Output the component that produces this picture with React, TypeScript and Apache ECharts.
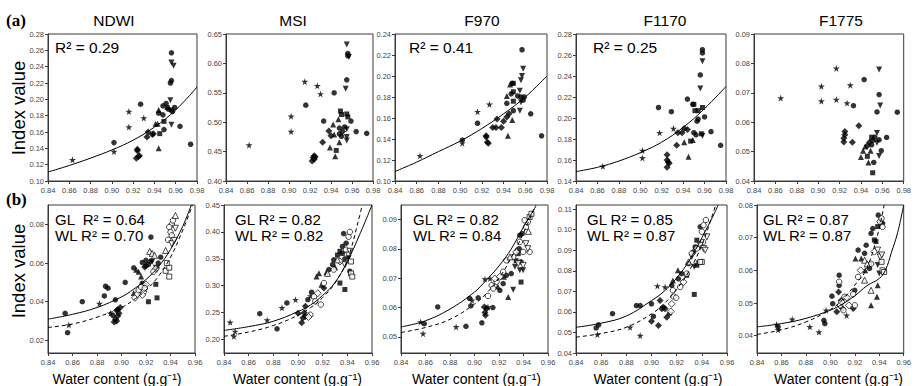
import React, { useEffect, useRef } from 'react';
import * as echarts from 'echarts';

type P = [number, number, string];
type C = [number, number];

// Marker codes: S star, C circle, D diamond, T triangle, V inverted triangle, Q square (upper = filled GL, lower = open WL)
const titles = ['NDWI', 'MSI', 'F970', 'F1170', 'F1775'];
const topR2 = ['0.29', '', '0.41', '0.25', ''];
const glR2 = ['0.64', '0.82', '0.82', '0.85', '0.87'];
const wlR2 = ['0.70', '0.82', '0.84', '0.87', '0.87'];

const topNDWI: P[] = [
  [0.863,0.126,'S'],[0.902,0.136,'S'],[0.902,0.147,'C'],[0.916,0.185,'S'],[0.916,0.166,'S'],
  [0.927,0.194,'C'],[0.930,0.177,'S'],[0.924,0.139,'D'],[0.923,0.128,'D'],[0.925,0.130,'D'],
  [0.926,0.131,'D'],[0.924,0.137,'D'],[0.934,0.160,'D'],[0.933,0.154,'D'],[0.938,0.157,'D'],
  [0.939,0.158,'D'],[0.941,0.170,'T'],[0.943,0.170,'T'],[0.944,0.140,'T'],[0.944,0.183,'C'],
  [0.944,0.187,'T'],[0.948,0.181,'C'],[0.945,0.158,'Q'],[0.949,0.173,'Q'],[0.949,0.163,'C'],
  [0.948,0.192,'C'],[0.951,0.195,'C'],[0.952,0.190,'Q'],[0.953,0.188,'C'],[0.955,0.199,'V'],
  [0.956,0.169,'V'],[0.955,0.220,'C'],[0.956,0.223,'C'],[0.956,0.245,'V'],[0.958,0.241,'V'],
  [0.956,0.257,'C'],[0.956,0.187,'Q'],[0.957,0.185,'C'],[0.959,0.190,'C'],[0.964,0.167,'C'],
  [0.974,0.145,'C'],
];
const topMSI: P[] = [
  [0.862,0.461,'S'],[0.902,0.510,'S'],[0.902,0.484,'S'],[0.915,0.569,'S'],[0.916,0.529,'C'],
  [0.927,0.562,'S'],[0.930,0.548,'S'],[0.922,0.434,'D'],[0.923,0.440,'D'],[0.924,0.443,'D'],
  [0.924,0.437,'D'],[0.925,0.441,'D'],[0.933,0.502,'C'],[0.932,0.466,'D'],[0.938,0.485,'D'],
  [0.939,0.457,'T'],[0.940,0.477,'D'],[0.943,0.550,'C'],[0.942,0.496,'T'],[0.943,0.479,'T'],
  [0.944,0.442,'T'],[0.945,0.452,'Q'],[0.947,0.505,'T'],[0.948,0.490,'C'],[0.948,0.466,'T'],
  [0.948,0.480,'C'],[0.949,0.519,'Q'],[0.950,0.513,'Q'],[0.950,0.476,'C'],[0.951,0.484,'D'],
  [0.953,0.492,'C'],[0.954,0.557,'V'],[0.955,0.514,'Q'],[0.955,0.475,'V'],[0.955,0.469,'V'],
  [0.955,0.572,'C'],[0.955,0.632,'V'],[0.956,0.617,'C'],[0.957,0.611,'V'],[0.956,0.613,'C'],
  [0.956,0.509,'Q'],[0.955,0.488,'V'],[0.959,0.502,'C'],[0.964,0.484,'C'],[0.974,0.481,'C'],
];
const topF970: P[] = [
  [0.863,0.124,'S'],[0.902,0.136,'S'],[0.902,0.139,'C'],[0.916,0.166,'S'],[0.916,0.155,'C'],
  [0.927,0.173,'S'],[0.924,0.142,'D'],[0.925,0.137,'D'],[0.926,0.136,'D'],[0.924,0.143,'D'],
  [0.930,0.151,'D'],[0.933,0.151,'D'],[0.934,0.159,'D'],[0.938,0.151,'D'],[0.940,0.157,'D'],
  [0.943,0.161,'D'],[0.945,0.164,'D'],[0.943,0.181,'T'],[0.944,0.143,'T'],[0.948,0.158,'T'],
  [0.943,0.174,'C'],[0.946,0.192,'T'],[0.948,0.193,'C'],[0.947,0.183,'C'],[0.949,0.185,'Q'],
  [0.949,0.193,'Q'],[0.949,0.176,'Q'],[0.949,0.167,'C'],[0.955,0.186,'V'],[0.956,0.196,'V'],
  [0.957,0.200,'V'],[0.958,0.207,'V'],[0.955,0.167,'V'],[0.956,0.175,'V'],[0.953,0.181,'C'],
  [0.956,0.180,'C'],[0.959,0.180,'C'],[0.958,0.177,'C'],[0.957,0.225,'C'],[0.965,0.164,'C'],
  [0.975,0.143,'C'],
];
const topF1170: P[] = [
  [0.865,0.154,'S'],[0.902,0.169,'S'],[0.902,0.162,'S'],[0.917,0.210,'C'],[0.918,0.186,'S'],
  [0.929,0.206,'C'],[0.931,0.190,'S'],[0.925,0.165,'D'],[0.925,0.160,'D'],[0.926,0.158,'D'],
  [0.925,0.153,'D'],[0.927,0.157,'D'],[0.934,0.174,'D'],[0.935,0.186,'D'],[0.939,0.186,'D'],
  [0.941,0.190,'D'],[0.944,0.189,'D'],[0.944,0.218,'C'],[0.941,0.177,'T'],[0.945,0.163,'T'],
  [0.949,0.179,'T'],[0.947,0.178,'Q'],[0.950,0.213,'Q'],[0.951,0.207,'Q'],[0.954,0.207,'Q'],
  [0.958,0.210,'Q'],[0.949,0.213,'C'],[0.950,0.186,'C'],[0.952,0.184,'C'],[0.953,0.197,'C'],
  [0.954,0.199,'C'],[0.956,0.228,'V'],[0.958,0.183,'V'],[0.958,0.254,'V'],[0.956,0.241,'C'],
  [0.958,0.265,'C'],[0.958,0.262,'C'],[0.957,0.185,'Q'],[0.960,0.201,'C'],[0.966,0.187,'C'],
  [0.975,0.174,'C'],
];
const topF1775: P[] = [
  [0.865,0.0682,'S'],[0.903,0.0722,'S'],[0.903,0.0672,'S'],[0.917,0.0783,'S'],[0.917,0.0677,'S'],
  [0.927,0.0665,'S'],[0.930,0.0726,'S'],[0.933,0.0656,'C'],[0.943,0.0745,'C'],[0.925,0.0568,'D'],
  [0.925,0.0557,'D'],[0.924,0.0545,'D'],[0.924,0.0533,'D'],[0.932,0.0532,'D'],[0.938,0.0588,'D'],
  [0.940,0.0482,'T'],[0.942,0.0503,'T'],[0.944,0.0517,'T'],[0.947,0.0463,'T'],[0.949,0.0503,'T'],
  [0.946,0.0520,'D'],[0.948,0.0532,'D'],[0.946,0.0484,'Q'],[0.950,0.0549,'Q'],[0.951,0.0428,'Q'],
  [0.950,0.0523,'C'],[0.951,0.0538,'C'],[0.952,0.0463,'C'],[0.953,0.0549,'C'],[0.955,0.0563,'V'],
  [0.957,0.0485,'V'],[0.957,0.0779,'V'],[0.958,0.0657,'V'],[0.955,0.0530,'V'],[0.955,0.0635,'C'],
  [0.957,0.0694,'C'],[0.957,0.0540,'C'],[0.959,0.0503,'C'],[0.964,0.0548,'C'],[0.974,0.0634,'C'],
];

const botNDWI: P[] = [
  [0.854,0.034,'C'],[0.856,0.024,'C'],[0.857,0.028,'S'],[0.868,0.040,'C'],[0.882,0.039,'S'],
  [0.886,0.043,'C'],[0.887,0.048,'C'],[0.889,0.047,'C'],[0.891,0.034,'S'],[0.895,0.041,'C'],
  [0.893,0.033,'C'],[0.896,0.0355,'D'],[0.897,0.036,'D'],[0.899,0.037,'D'],[0.898,0.034,'D'],
  [0.897,0.0326,'D'],[0.895,0.031,'D'],[0.896,0.030,'D'],[0.894,0.0295,'D'],[0.903,0.050,'C'],
  [0.910,0.0575,'C'],[0.912,0.0565,'T'],[0.914,0.0555,'T'],[0.910,0.0445,'T'],[0.917,0.0495,'C'],
  [0.917,0.0603,'C'],[0.919,0.058,'D'],[0.920,0.0614,'C'],[0.920,0.0586,'D'],[0.922,0.0593,'C'],
  [0.924,0.061,'C'],[0.925,0.0607,'V'],[0.928,0.0576,'V'],[0.929,0.0565,'V'],[0.924,0.0734,'C'],
  [0.928,0.049,'Q'],[0.929,0.042,'Q'],[0.922,0.040,'Q'],[0.919,0.0484,'Q'],[0.916,0.053,'T'],
  [0.930,0.060,'C'],[0.932,0.063,'C'],
  [0.911,0.042,'d'],[0.913,0.044,'d'],[0.914,0.046,'c'],[0.916,0.0476,'c'],[0.918,0.045,'d'],
  [0.919,0.047,'c'],[0.920,0.049,'d'],[0.917,0.0435,'d'],[0.923,0.066,'t'],[0.925,0.065,'t'],
  [0.927,0.064,'t'],[0.926,0.0555,'c'],[0.928,0.057,'d'],[0.936,0.056,'q'],[0.939,0.0576,'q'],
  [0.939,0.053,'q'],[0.937,0.060,'q'],[0.936,0.0665,'t'],[0.941,0.080,'c'],[0.939,0.0786,'c'],
  [0.940,0.076,'c'],[0.941,0.0743,'c'],[0.938,0.072,'c'],[0.941,0.070,'v'],[0.943,0.0717,'v'],
  [0.944,0.0846,'t'],[0.942,0.082,'c'],[0.944,0.078,'v'],
];
const botMSI: P[] = [
  [0.845,0.232,'S'],[0.848,0.206,'S'],[0.849,0.215,'S'],[0.869,0.248,'C'],[0.875,0.236,'S'],
  [0.883,0.220,'C'],[0.887,0.259,'S'],[0.891,0.268,'C'],[0.898,0.274,'S'],[0.900,0.249,'D'],
  [0.903,0.231,'D'],[0.906,0.243,'D'],[0.906,0.262,'D'],[0.908,0.274,'C'],[0.910,0.281,'S'],
  [0.911,0.288,'C'],[0.915,0.317,'T'],[0.917,0.323,'T'],[0.919,0.302,'T'],[0.921,0.296,'D'],
  [0.925,0.330,'C'],[0.928,0.339,'C'],[0.929,0.348,'C'],[0.932,0.357,'Q'],[0.934,0.364,'Q'],
  [0.936,0.373,'C'],[0.937,0.397,'C'],[0.938,0.293,'Q'],[0.934,0.305,'Q'],[0.939,0.379,'C'],
  [0.941,0.351,'V'],[0.942,0.327,'C'],[0.904,0.240,'D'],[0.905,0.250,'D'],[0.923,0.325,'T'],
  [0.930,0.335,'T'],[0.936,0.360,'Q'],[0.938,0.350,'C'],
  [0.913,0.280,'c'],[0.914,0.271,'c'],[0.916,0.286,'d'],[0.9185,0.265,'c'],[0.910,0.246,'c'],
  [0.9085,0.242,'d'],[0.921,0.305,'c'],[0.924,0.323,'t'],[0.929,0.330,'c'],[0.934,0.345,'d'],
  [0.938,0.339,'v'],[0.941,0.357,'v'],[0.942,0.364,'v'],[0.943,0.345,'q'],[0.943,0.323,'q'],
  [0.944,0.317,'q'],[0.941,0.391,'c'],[0.942,0.400,'c'],[0.939,0.367,'c'],[0.932,0.348,'t'],
];
const botF970: P[] = [
  [0.856,0.0551,'S'],[0.859,0.0545,'C'],[0.858,0.0511,'S'],[0.870,0.0602,'C'],[0.885,0.0534,'S'],
  [0.893,0.0536,'C'],[0.896,0.0631,'C'],[0.897,0.0606,'C'],[0.898,0.0625,'S'],[0.903,0.0633,'C'],
  [0.9085,0.0697,'S'],[0.9126,0.0699,'S'],[0.906,0.0548,'C'],[0.908,0.0602,'D'],[0.910,0.0597,'D'],
  [0.9085,0.0583,'D'],[0.909,0.0574,'D'],[0.911,0.0602,'S'],[0.915,0.0600,'C'],[0.9207,0.0659,'C'],
  [0.9234,0.0682,'C'],[0.926,0.0710,'C'],[0.9275,0.0636,'T'],[0.930,0.0716,'C'],[0.9316,0.0661,'V'],
  [0.933,0.0739,'V'],[0.934,0.0760,'Q'],[0.9357,0.0784,'Q'],[0.9365,0.0801,'C'],[0.937,0.0727,'V'],
  [0.938,0.0756,'C'],[0.9397,0.0727,'V'],[0.938,0.0687,'Q'],[0.937,0.0847,'C'],[0.939,0.0852,'C'],
  [0.924,0.0705,'T'],[0.919,0.0672,'T'],
  [0.914,0.0676,'c'],[0.9153,0.0665,'c'],[0.9166,0.0699,'d'],[0.918,0.0688,'c'],[0.9207,0.0705,'d'],
  [0.9234,0.0722,'c'],[0.926,0.0761,'c'],[0.929,0.0773,'t'],[0.9316,0.0773,'c'],[0.9357,0.0750,'v'],
  [0.9397,0.0744,'v'],[0.942,0.0818,'v'],[0.9435,0.0801,'v'],[0.945,0.0790,'c'],[0.942,0.0875,'c'],
  [0.9435,0.0892,'c'],[0.945,0.0909,'q'],[0.9465,0.0920,'q'],[0.941,0.0898,'c'],[0.937,0.0824,'c'],
  [0.934,0.0790,'d'],[0.9397,0.0790,'c'],[0.944,0.0860,'t'],[0.911,0.0640,'c'],
];
const botF1170: P[] = [
  [0.856,0.0522,'C'],[0.858,0.0537,'C'],[0.857,0.0490,'S'],[0.869,0.0591,'C'],[0.883,0.0525,'S'],
  [0.891,0.0485,'S'],[0.888,0.0631,'C'],[0.891,0.0631,'C'],[0.900,0.0639,'C'],[0.9015,0.0578,'C'],
  [0.900,0.0555,'D'],[0.9055,0.0534,'D'],[0.9047,0.0726,'S'],[0.9068,0.0656,'D'],[0.9082,0.0615,'D'],
  [0.9095,0.0623,'D'],[0.9108,0.0615,'D'],[0.9121,0.0574,'D'],[0.9108,0.0721,'S'],[0.9143,0.0591,'C'],
  [0.9161,0.0729,'C'],[0.921,0.0802,'T'],[0.9214,0.0761,'C'],[0.917,0.0753,'T'],[0.924,0.0786,'C'],
  [0.9294,0.0835,'C'],[0.932,0.0867,'V'],[0.9334,0.0892,'C'],[0.9347,0.0916,'C'],[0.936,0.0949,'Q'],
  [0.9387,0.1014,'C'],[0.9339,0.0819,'V'],[0.936,0.0827,'Q'],[0.928,0.0778,'Q'],[0.934,0.0685,'Q'],
  [0.9374,0.0835,'V'],
  [0.917,0.0705,'c'],[0.9175,0.0675,'c'],[0.9161,0.0639,'d'],[0.9153,0.0602,'d'],[0.9196,0.0669,'c'],
  [0.9228,0.0721,'c'],[0.9254,0.0745,'d'],[0.928,0.0786,'c'],[0.9294,0.0843,'t'],[0.932,0.0884,'c'],
  [0.936,0.0908,'c'],[0.9387,0.0924,'v'],[0.9413,0.0908,'v'],[0.9427,0.0900,'v'],[0.940,0.0843,'q'],
  [0.9387,0.0843,'q'],[0.9413,0.1022,'c'],[0.9432,0.1047,'c'],[0.940,0.0990,'c'],[0.944,0.0965,'v'],
  [0.941,0.0940,'c'],
];
const botF1775: P[] = [
  [0.856,0.0434,'S'],[0.8573,0.0427,'C'],[0.8573,0.0418,'S'],[0.8688,0.0450,'S'],[0.8832,0.0427,'S'],
  [0.8907,0.0411,'S'],[0.8947,0.0447,'C'],[0.8955,0.0437,'C'],[0.8965,0.0478,'S'],[0.9013,0.0521,'C'],
  [0.9019,0.0498,'C'],[0.9053,0.0473,'D'],[0.9067,0.0534,'D'],[0.9072,0.0554,'C'],[0.9072,0.0585,'C'],
  [0.9088,0.0508,'D'],[0.9099,0.0483,'D'],[0.9133,0.0462,'S'],[0.9187,0.0483,'D'],[0.920,0.0539,'C'],
  [0.9205,0.0636,'T'],[0.9227,0.0662,'C'],[0.9253,0.0636,'T'],[0.928,0.0652,'C'],[0.9285,0.0600,'T'],
  [0.9293,0.0677,'C'],[0.932,0.0606,'C'],[0.9328,0.0616,'V'],[0.9333,0.0713,'C'],[0.9347,0.0728,'C'],
  [0.936,0.0693,'Q'],[0.9373,0.0688,'Q'],[0.9387,0.0734,'Q'],[0.9392,0.0769,'C'],[0.9413,0.0749,'Q'],
  [0.9427,0.0744,'C'],[0.9387,0.0616,'V'],[0.940,0.0590,'V'],[0.9387,0.0554,'T'],[0.9333,0.0493,'T'],
  [0.9381,0.0519,'T'],
  [0.9072,0.0565,'c'],[0.908,0.0493,'c'],[0.9093,0.0503,'d'],[0.9115,0.0519,'c'],[0.9133,0.0517,'d'],
  [0.9152,0.0493,'d'],[0.9107,0.0478,'c'],[0.9187,0.0527,'c'],[0.920,0.0493,'c'],[0.9227,0.0580,'c'],
  [0.9248,0.0600,'d'],[0.928,0.0631,'t'],[0.9301,0.0620,'t'],[0.9333,0.0620,'c'],[0.936,0.0657,'d'],
  [0.9387,0.0662,'v'],[0.9408,0.0641,'v'],[0.9419,0.0626,'q'],[0.9427,0.0600,'q'],[0.944,0.0595,'q'],
  [0.9421,0.0647,'v'],[0.9405,0.0749,'c'],[0.9419,0.0759,'c'],[0.9427,0.0733,'c'],[0.928,0.0570,'t'],
  [0.9333,0.0539,'t'],
];

// fitted curves
const fitNDWI: C[] = [[0.84,0.111],[0.86,0.119],[0.88,0.128],[0.90,0.138],[0.92,0.150],[0.94,0.166],[0.96,0.187],[0.98,0.215]];
const fitF970: C[] = [[0.84,0.109],[0.86,0.118],[0.88,0.128],[0.90,0.138],[0.92,0.150],[0.94,0.164],[0.96,0.180],[0.98,0.200]];
const fitF1170: C[] = [[0.84,0.149],[0.86,0.153],[0.88,0.159],[0.90,0.167],[0.92,0.177],[0.94,0.191],[0.96,0.209],[0.98,0.230]];
const glNDWI: C[] = [[0.84,0.031],[0.86,0.0335],[0.88,0.037],[0.90,0.0425],[0.91,0.0465],[0.92,0.0515],[0.93,0.058],[0.94,0.067],[0.95,0.079],[0.957,0.090]];
const wlNDWI: C[] = [[0.84,0.0267],[0.86,0.0285],[0.88,0.032],[0.90,0.037],[0.91,0.041],[0.92,0.046],[0.93,0.053],[0.94,0.063],[0.95,0.077],[0.958,0.090]];
const glMSI: C[] = [[0.84,0.217],[0.86,0.224],[0.88,0.234],[0.90,0.252],[0.91,0.264],[0.92,0.282],[0.93,0.306],[0.94,0.345],[0.95,0.395],[0.96,0.450]];
const wlMSI: C[] = [[0.84,0.206],[0.86,0.214],[0.88,0.226],[0.90,0.245],[0.91,0.259],[0.92,0.278],[0.93,0.305],[0.94,0.348],[0.95,0.430],[0.952,0.450]];
const glF970: C[] = [[0.84,0.0534],[0.86,0.0555],[0.88,0.0595],[0.90,0.0653],[0.91,0.0695],[0.92,0.0742],[0.93,0.080],[0.94,0.0875],[0.95,0.0945]];
const wlF970: C[] = [[0.84,0.0515],[0.86,0.0532],[0.88,0.056],[0.90,0.0612],[0.91,0.065],[0.92,0.070],[0.93,0.077],[0.94,0.0855],[0.95,0.0949]];
const glF1170: C[] = [[0.84,0.0525],[0.86,0.0545],[0.88,0.058],[0.90,0.0655],[0.91,0.070],[0.92,0.0765],[0.93,0.085],[0.94,0.096],[0.95,0.108],[0.953,0.112]];
const wlF1170: C[] = [[0.84,0.0477],[0.86,0.0495],[0.88,0.0525],[0.90,0.059],[0.91,0.064],[0.92,0.071],[0.93,0.080],[0.94,0.0925],[0.95,0.110],[0.951,0.112]];
const glF1775: C[] = [[0.84,0.0427],[0.86,0.0437],[0.88,0.0453],[0.90,0.0478],[0.91,0.0497],[0.92,0.0522],[0.93,0.0553],[0.94,0.0575],[0.945,0.0600],[0.95,0.0655],[0.955,0.0715],[0.96,0.080]];
const wlF1775: C[] = [[0.84,0.0404],[0.86,0.0418],[0.88,0.0442],[0.90,0.048],[0.91,0.051],[0.92,0.0555],[0.929,0.060],[0.938,0.070],[0.944,0.080]];

const topY = [[0.10,0.28,0.02],[0.40,0.65,0.05],[0.10,0.24,0.02],[0.14,0.28,0.02],[0.04,0.09,0.01]];
const botYRange = [[0.0135,0.09],[0.175,0.45],[0.0445,0.095],[0.04,0.112],[0.0347,0.08]];
const botYTicks = [
  [0.02,0.04,0.06,0.08],
  [0.20,0.25,0.30,0.35,0.40,0.45],
  [0.05,0.06,0.07,0.08,0.09],
  [0.04,0.05,0.06,0.07,0.08,0.09,0.10,0.11],
  [0.04,0.05,0.06,0.07,0.08],
];

const topPts = [topNDWI, topMSI, topF970, topF1170, topF1775];
const topFits: (C[] | null)[] = [fitNDWI, null, fitF970, fitF1170, null];
const botPts = [botNDWI, botMSI, botF970, botF1170, botF1775];
const botGL = [glNDWI, glMSI, glF970, glF1170, glF1775];
const botWL = [wlNDWI, wlMSI, wlF970, wlF1170, wlF1775];

// layout (px)
const topGrids = [[48,149],[226,147],[395,152],[576,150],[754,150]];
const botGrids = [[48,147],[224,148],[401,147],[576,151],[757,150]];
const titleX = [114, 293, 482, 665, 841];
const r2X = [55, 0, 409, 593, 0];
const glX = [55, 235, 413, 587, 763];
const wcX = [117, 297.5, 476.5, 658, 838.5];

const FONT = '"Liberation Sans", Arial, sans-serif';
const AX = '#3a3a3a';

const SYM: Record<string, { symbol: string; size: number }> = {
  S: { symbol: 'path://M50,0L61,35L98,35L68,57L79,91L50,70L21,91L32,57L2,35L39,35Z', size: 7 },
  C: { symbol: 'circle', size: 5.5 },
  D: { symbol: 'diamond', size: 7 },
  T: { symbol: 'triangle', size: 6 },
  V: { symbol: 'path://M0,0L100,0L50,90Z', size: 6 },
  Q: { symbol: 'rect', size: 5 },
};

const fmt = (v: number) => v.toFixed(2);

function xAxis(i: number, max: number) {
  return {
    type: 'value', gridIndex: i, min: 0.84, max, interval: 0.02,
    axisLine: { show: true, onZero: false, lineStyle: { color: AX, width: 1 } },
    axisTick: { show: true, length: 3, lineStyle: { color: AX } },
    splitLine: { show: false },
    axisLabel: { fontSize: 7.5, color: '#444', margin: 5, fontFamily: FONT, formatter: fmt, showMaxLabel: true, showMinLabel: true },
  };
}

export default function App() {
  const ref = useRef<HTMLDivElement>(null);
  useEffect(() => {
    if (!ref.current) return;
    const chart = echarts.init(ref.current, undefined, { renderer: 'svg' });
    const grid: any[] = [];
    const xAxes: any[] = [];
    const yAxes: any[] = [];
    const series: any[] = [];
    const graphic: any[] = [];

    const addPts = (pts: P[], gi: number) => {
      const codes = Array.from(new Set(pts.map((p) => p[2])));
      codes.forEach((code) => {
        const up = code.toUpperCase();
        const open = code !== up;
        const s = SYM[up];
        series.push({
          type: 'scatter', xAxisIndex: gi, yAxisIndex: gi,
          symbol: s.symbol, symbolSize: s.size,
          data: pts.filter((p) => p[2] === code).map((p) => [p[0], p[1]]),
          itemStyle: open
            ? { color: '#fff', borderColor: '#000', borderWidth: 0.9 }
            : { color: '#000', borderColor: '#000', borderWidth: 0 },
          z: 3,
        });
      });
    };
    const addLine = (d: C[], gi: number, dashed: boolean) => {
      series.push({
        type: 'line', xAxisIndex: gi, yAxisIndex: gi, data: d, smooth: 0.4,
        showSymbol: false, symbol: 'none', clip: true, z: 4,
        lineStyle: { color: '#000', width: 1, type: dashed ? [4, 3] : 'solid' },
      });
    };

    for (let i = 0; i < 5; i++) {
      const [l, w] = topGrids[i];
      grid.push({ left: l, top: 34, width: w, height: 147, show: true, borderColor: AX, borderWidth: 1, backgroundColor: 'transparent' });
      xAxes.push(xAxis(i, 0.98));
      const [mn, mx, iv] = topY[i];
      yAxes.push({
        type: 'value', gridIndex: i, min: mn, max: mx, interval: iv,
        axisLine: { show: true, lineStyle: { color: AX, width: 1 } },
        axisTick: { show: true, length: 3, lineStyle: { color: AX } },
        splitLine: { show: false },
        axisLabel: { fontSize: 7.5, color: '#444', margin: 4, fontFamily: FONT, formatter: fmt },
      });
      addPts(topPts[i], i);
      const f = topFits[i];
      if (f) addLine(f, i, false);
      graphic.push({ type: 'text', x: titleX[i], y: 20, style: { text: titles[i], fontSize: 15.5, fontFamily: FONT, fill: '#000', align: 'center', verticalAlign: 'middle' } });
      if (topR2[i]) {
        graphic.push({ type: 'text', x: r2X[i], y: 47, style: { text: 'R² = ' + topR2[i], fontSize: 15.5, fontFamily: FONT, fill: '#000', align: 'left', verticalAlign: 'middle' } });
      }
    }
    for (let i = 0; i < 5; i++) {
      const gi = i + 5;
      const [l, w] = botGrids[i];
      grid.push({ left: l, top: 205, width: w, height: 148, show: true, borderColor: AX, borderWidth: 1, backgroundColor: 'transparent' });
      xAxes.push(xAxis(gi, 0.96));
      const [mn, mx] = botYRange[i];
      yAxes.push({
        type: 'value', gridIndex: gi, min: mn, max: mx,
        axisLine: { show: true, lineStyle: { color: AX, width: 1 } },
        axisTick: { show: true, length: 3, lineStyle: { color: AX }, customValues: botYTicks[i] },
        splitLine: { show: false },
        axisLabel: { fontSize: 7.5, color: '#444', margin: 4, fontFamily: FONT, formatter: fmt, customValues: botYTicks[i] },
      });
      addPts(botPts[i], gi);
      addLine(botGL[i], gi, false);
      addLine(botWL[i], gi, true);
      const gl = i === 0 ? 'GL  R² = ' : 'GL R² = ';
      graphic.push({ type: 'text', x: glX[i], y: 219, style: { text: gl + glR2[i], fontSize: 15, lineHeight: 15, fontFamily: FONT, fill: '#000', align: 'left', verticalAlign: 'middle' } });
      graphic.push({ type: 'text', x: glX[i], y: 235, style: { text: 'WL R² = ' + wlR2[i], fontSize: 15, lineHeight: 15, fontFamily: FONT, fill: '#000', align: 'left', verticalAlign: 'middle' } });
      graphic.push({ type: 'text', x: wcX[i], y: 379, style: { text: 'Water content (g.g⁻¹)', fontSize: 14, fontFamily: FONT, fill: '#000', align: 'center', verticalAlign: 'middle' } });
    }
    graphic.push({ type: 'text', x: 6, y: 20, style: { text: '(a)', fontSize: 17, fontWeight: 'bold', fontFamily: '"Liberation Serif", "Times New Roman", serif', fill: '#000', align: 'left', verticalAlign: 'middle' } });
    graphic.push({ type: 'text', x: 6, y: 199, style: { text: '(b)', fontSize: 17, fontWeight: 'bold', fontFamily: '"Liberation Serif", "Times New Roman", serif', fill: '#000', align: 'left', verticalAlign: 'middle' } });
    graphic.push({ type: 'text', x: 18, y: 108, rotation: Math.PI / 2, style: { text: 'Index value', fontSize: 18.5, fontFamily: FONT, fill: '#000', align: 'center', verticalAlign: 'middle' } });
    graphic.push({ type: 'text', x: 18, y: 271, rotation: Math.PI / 2, style: { text: 'Index value', fontSize: 18.5, fontFamily: FONT, fill: '#000', align: 'center', verticalAlign: 'middle' } });

    chart.setOption({
      animation: false,
      backgroundColor: '#fff',
      grid, xAxis: xAxes, yAxis: yAxes, series, graphic,
    });
    return () => chart.dispose();
  }, []);
  return <div ref={ref} style={{ position: 'fixed', left: 0, top: 0, width: 914, height: 386 }} />;
}
